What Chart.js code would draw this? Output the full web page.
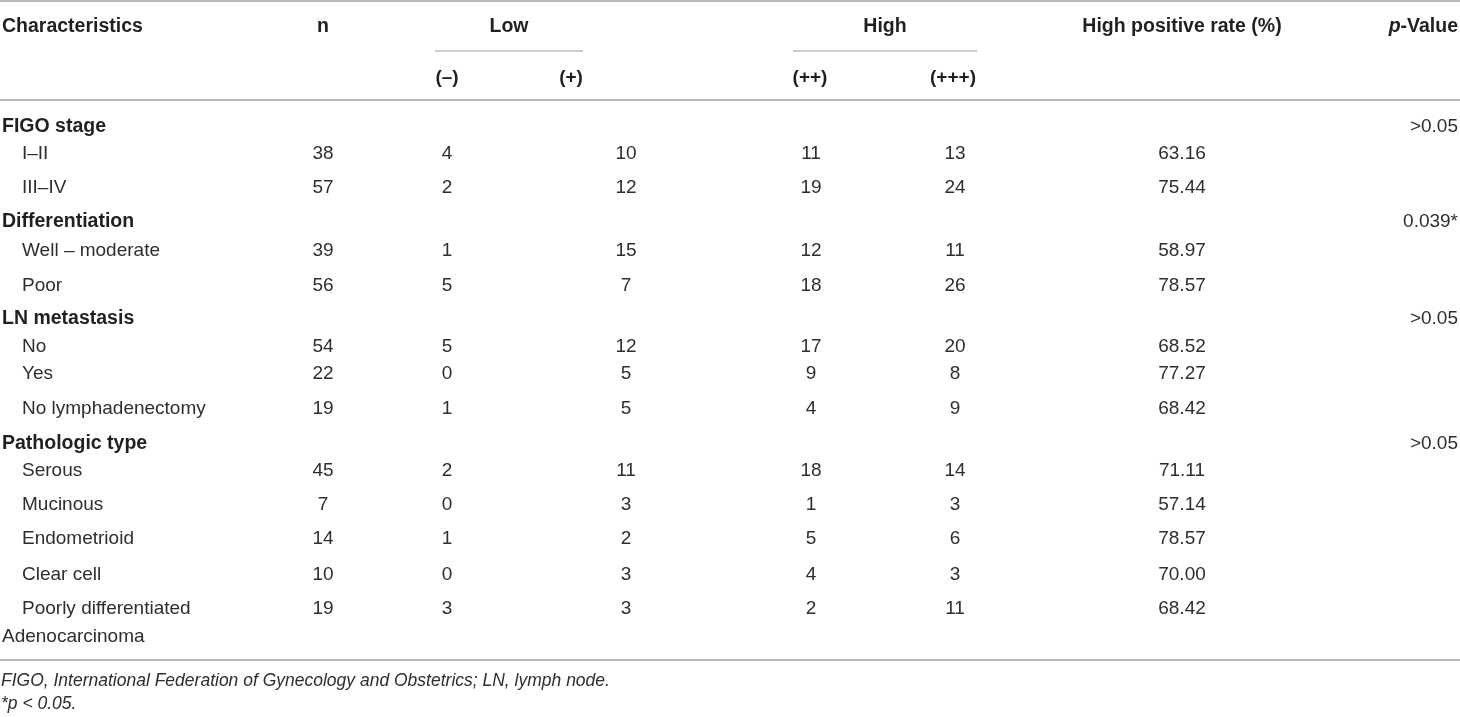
<!DOCTYPE html>
<html>
<head>
<meta charset="utf-8">
<title>High positive rate by clinicopathologic characteristics</title>
<script src="https://cdn.jsdelivr.net/npm/chart.js@4.4.1/dist/chart.umd.min.js"></script>
<style>
  html, body { margin: 0; padding: 0; background: #fff; }
  .table-wrap { position: relative; width: 1460px; height: 717px; }
</style>
</head>
<body>
<div class="table-wrap"><canvas id="tableChart"></canvas></div>
<script>
// --- data ---
const categories = [
  'FIGO stage', 'I–II', 'III–IV',
  'Differentiation', 'Well – moderate', 'Poor',
  'LN metastasis', 'No', 'Yes', 'No lymphadenectomy',
  'Pathologic type', 'Serous', 'Mucinous', 'Endometrioid', 'Clear cell', 'Poorly differentiated', 'Adenocarcinoma'
];
const nCounts   = [null, 38, 57, null, 39, 56, null, 54, 22, 19, null, 45, 7, 14, 10, 19, null];
const lowNeg    = [null, 4, 2, null, 1, 5, null, 5, 0, 1, null, 2, 0, 1, 0, 3, null];
const lowPlus   = [null, 10, 12, null, 15, 7, null, 12, 5, 5, null, 11, 3, 2, 3, 3, null];
const highPlus2 = [null, 11, 19, null, 12, 18, null, 17, 9, 4, null, 18, 1, 5, 4, 2, null];
const highPlus3 = [null, 13, 24, null, 11, 26, null, 20, 8, 9, null, 14, 3, 6, 3, 11, null];
const highRate  = [null, 63.16, 75.44, null, 58.97, 78.57, null, 68.52, 77.27, 68.42, null, 71.11, 57.14, 78.57, 70.00, 68.42, null];
const pValues   = ['>0.05', null, null, '0.039*', null, null, '>0.05', null, null, null, '>0.05', null, null, null, null, null, null];

const headerLabels = ['Characteristics', 'n', 'Low', 'High', 'High positive rate (%)'];
const subLabels = ['(–)', '(+)', '(++)', '(+++)'];
const footnotes = [
  'FIGO, International Federation of Gynecology and Obstetrics; LN, lymph node.',
  '*p < 0.05.'
];

// --- layout (pixels in a 1460 x 717 frame) ---
const rowKind = ['group', 'item', 'item', 'group', 'item', 'item', 'group', 'item', 'item', 'item',
  'group', 'item', 'item', 'item', 'item', 'item', 'wrap'];
const rowY = [127, 154, 188, 222, 251, 286, 319, 347, 374, 409, 444, 471, 505, 539, 575, 609, 637];
const columns = [
  { values: nCounts,   x: 323,  align: 'center' },
  { values: lowNeg,    x: 447,  align: 'center' },
  { values: lowPlus,   x: 626,  align: 'center' },
  { values: highPlus2, x: 811,  align: 'center' },
  { values: highPlus3, x: 955,  align: 'center' },
  { values: highRate.map(v => v == null ? null : v.toFixed(2)), x: 1182, align: 'center' },
  { values: pValues,   x: 1458, align: 'right' }
];

const INK = '#231f20';
const RULE = '#a0a0a0';
const FONT = "'Liberation Sans', Arial, Helvetica, sans-serif";

function cellDataset(values, x, align) {
  const points = [];
  const labels = [];
  values.forEach((v, i) => {
    if (v == null) return;
    points.push({ x: x, y: rowY[i] });
    labels.push(String(v));
  });
  return { data: points, cellLabels: labels, align: align, pointRadius: 0, pointHoverRadius: 0 };
}

const datasets = [];
// label column
const labelData = [];
const labelText = [];
categories.forEach((c, i) => {
  labelData.push({ x: rowKind[i] === 'item' ? 22 : 2, y: rowY[i] });
  labelText.push(c);
});
datasets.push({ data: labelData, cellLabels: labelText, align: 'left', kinds: rowKind, pointRadius: 0, pointHoverRadius: 0 });
columns.forEach(col => datasets.push(cellDataset(col.values, col.x, col.align)));

const tablePlugin = {
  id: 'tableCells',
  afterDatasetsDraw(chart) {
    const { ctx, scales: { x, y } } = chart;
    const X = v => x.getPixelForValue(v);
    const Y = v => y.getPixelForValue(v);

    ctx.save();
    ctx.textBaseline = 'middle';

    // rules
    const rule = (x0, x1, yy, w) => {
      ctx.beginPath();
      ctx.strokeStyle = RULE;
      ctx.lineWidth = w;
      ctx.moveTo(X(x0), Y(yy));
      ctx.lineTo(X(x1), Y(yy));
      ctx.stroke();
    };
    rule(0, 1460, 1, 1.5);
    rule(0, 1460, 100, 1.5);
    rule(0, 1460, 660, 1.5);
    rule(435, 583, 51, 1.2);
    rule(793, 977, 51, 1.2);

    // headers
    ctx.fillStyle = INK;
    ctx.font = `bold 19.5px ${FONT}`;
    ctx.textAlign = 'left';
    ctx.fillText(headerLabels[0], X(2), Y(27));
    ctx.textAlign = 'center';
    ctx.fillText(headerLabels[1], X(323), Y(27));
    ctx.fillText(headerLabels[2], X(509), Y(27));
    ctx.fillText(headerLabels[3], X(885), Y(27));
    ctx.fillText(headerLabels[4], X(1182), Y(27));
    ctx.textAlign = 'right';
    const tail = '-Value';
    ctx.fillText(tail, X(1458), Y(27));
    const tw = ctx.measureText(tail).width;
    ctx.font = `italic bold 19.5px ${FONT}`;
    ctx.fillText('p', X(1458) - tw, Y(27));

    ctx.font = `bold 19px ${FONT}`;
    ctx.textAlign = 'center';
    ctx.fillText(subLabels[0], X(447), Y(78));
    ctx.fillText(subLabels[1], X(571), Y(78));
    ctx.fillText(subLabels[2], X(810), Y(78));
    ctx.fillText(subLabels[3], X(953), Y(78));

    // body cells, positioned by the scatter points
    chart.data.datasets.forEach((ds, di) => {
      const meta = chart.getDatasetMeta(di);
      meta.data.forEach((pt, j) => {
        const kind = ds.kinds ? ds.kinds[j] : 'item';
        ctx.font = kind === 'group' ? `bold 19.5px ${FONT}` : `19px ${FONT}`;
        ctx.fillStyle = kind === 'group' ? INK : '#2e2e2e';
        ctx.textAlign = ds.align;
        ctx.fillText(ds.cellLabels[j], pt.x, pt.y);
      });
    });

    // footnotes
    ctx.font = `italic 17.5px ${FONT}`;
    ctx.fillStyle = '#2e2e2e';
    ctx.textAlign = 'left';
    ctx.fillText(footnotes[0], X(1), Y(681));
    ctx.fillText(footnotes[1], X(1), Y(704));
    ctx.restore();
  }
};

new Chart(document.getElementById('tableChart'), {
  type: 'scatter',
  data: { datasets: datasets },
  options: {
    responsive: true,
    maintainAspectRatio: false,
    animation: false,
    events: [],
    layout: { padding: 0 },
    plugins: { legend: { display: false }, tooltip: { enabled: false } },
    scales: {
      x: { type: 'linear', min: 0, max: 1460, display: false },
      y: { type: 'linear', min: 0, max: 717, reverse: true, display: false }
    }
  },
  plugins: [tablePlugin]
});
</script>
</body>
</html>
